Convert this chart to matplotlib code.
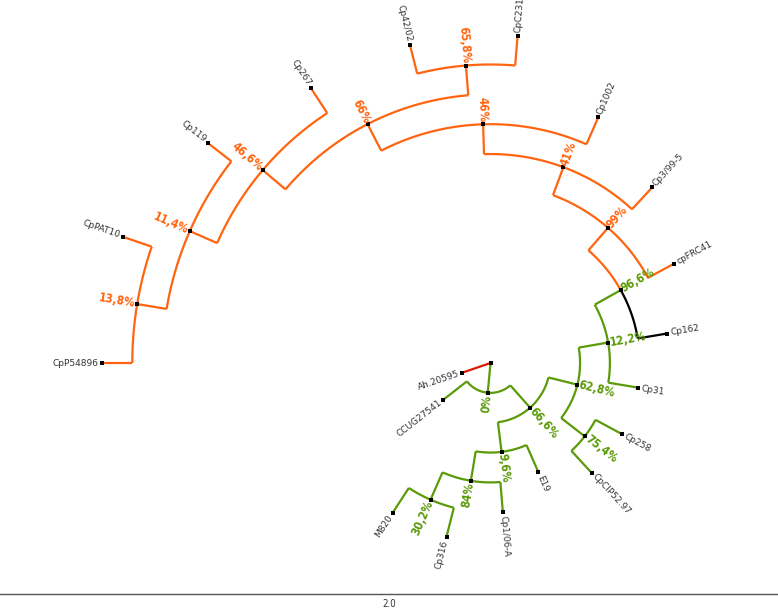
import numpy as np
import matplotlib.pyplot as plt
from matplotlib import font_manager as fm

# tree as nested tuples: (support, child, child) ; leaves are plain strings
tree = (None,
        ("0%",
         ("66,6%",
          ("62,8%",
           ("12,2%",
            ("96,6%",
             ("99%",
              ("41%",
               ("46%",
                ("66%",
                 ("46,6%",
                  ("11,4%",
                   ("13,8%", "CpP54896", "CpPAT10"),
                   "Cp119"),
                  "Cp267"),
                 ("65,8%", "Cp42/02", "CpC231")),
                "Cp1002"),
               "Cp3/99-5"),
              "cpFRC41"),
             "Cp162"),
            "Cp31"),
           ("75,4%", "Cp258", "CpCIP52.97")),
          ("9,6%",
           "E19",
           ("84%",
            "Cp1/06-A",
            ("30,2%", "Cp316", "M820")))),
         "CCUG27541"),
        "Ah.20595")

# clade colours (key = support label of the clade root, or leaf name)
green = "#5b9a08"
clade_colors = {"99%": "#ff6410", "Cp162": "#000000", "Ah.20595": "#dd1a00"}

# narrow fonts for the support values and the scale bar, if there are some
def find_narrow(bold):
    for f in fm.fontManager.ttflist:
        low = f.fname.lower()
        if not ('narrow' in low or 'condensed' in low):
            continue
        if 'italic' in low or 'oblique' in low:
            continue
        if bold == ('bold' in low):
            return f.fname
    return None

nb = find_narrow(True)
nr = find_narrow(False)
sup_font = fm.FontProperties(fname=nb, size=8.5) if nb else \
    fm.FontProperties(family='DejaVu Sans', weight='bold', size=7.5)
bar_font = fm.FontProperties(fname=nr, size=7) if nr else \
    fm.FontProperties(family='DejaVu Sans', size=6.5)

# collect leaves in order
leaves = []
def collect(n):
    if isinstance(n, str):
        leaves.append(n)
    else:
        for c in n[1:]:
            collect(c)
collect(tree)
n_leaf = len(leaves)
leaf_ang = {name: 180 - i * 360 / n_leaf for i, name in enumerate(leaves)}

# layout: every branch has length 1
nodes = []   # (label, angle, depth, color, is_leaf)
branches = []  # (parent angle, parent depth, child angle, child depth, color)

def layout(n, depth, color):
    if isinstance(n, str):
        col = clade_colors.get(n, color)
        nodes.append((n, leaf_ang[n], depth, col, True))
        return leaf_ang[n]
    sup = n[0]
    col = clade_colors.get(sup, color)
    kids = []
    for c in n[1:]:
        key = c if isinstance(c, str) else c[0]
        a = layout(c, depth + 1, col)
        kids.append((a, clade_colors.get(key, col)))
    ang = np.mean([k[0] for k in kids])
    for a, kc in kids:
        branches.append((ang, depth, a, depth + 1, kc))
    nodes.append((sup, ang, depth, col, False))
    return ang

layout(tree, 0, green)

fig = plt.figure(figsize=(7.78, 6.09), dpi=100)
R = 16
unit = 29.85
half = R * unit
cx, cy = 490.5, 609 - 363
ax = fig.add_axes([(cx - half) / 778, (cy - half) / 609, 2 * half / 778, 2 * half / 609],
                  projection='polar')
ax.set_ylim(0, R)
ax.axis('off')

for pa, pd, ca, cd, col in branches:
    th = np.radians(np.linspace(pa, ca, 60))
    ax.plot(th, np.full_like(th, pd), color=col, lw=1.6, solid_capstyle='butt', zorder=2)
    ax.plot([np.radians(ca)] * 2, [pd, cd], color=col, lw=1.6, solid_capstyle='butt', zorder=2)

for lab, ang, d, col, is_leaf in nodes:
    ax.plot(np.radians(ang), d, marker='s', ms=3.5, mew=0, color='black', zorder=3)
    if lab is None:
        continue
    a = ((ang + 180) % 360) - 180
    if -90 < a < 90:
        rot, ha = a, 'left'
    else:
        rot, ha = a - 180 if a > 0 else a + 180, 'right'
    if is_leaf:
        ax.text(np.radians(ang), d + 0.12, lab, rotation=rot, rotation_mode='anchor',
                ha=ha, va='center', fontsize=6.5, color='#333333', family='DejaVu Sans')
    else:
        ax.text(np.radians(ang), d + 0.06, lab, rotation=rot, rotation_mode='anchor',
                ha=ha, va='center', color=col, fontproperties=sup_font)

# scale bar
fig.add_artist(plt.Line2D([0, 1], [1 - 594 / 609] * 2, color='#555555', lw=1))
fig.text(389 / 778, 1 - 604 / 609, "2.0", ha='center', va='center',
         color='#333333', fontproperties=bar_font)

fig.savefig('out.png', dpi=100)
